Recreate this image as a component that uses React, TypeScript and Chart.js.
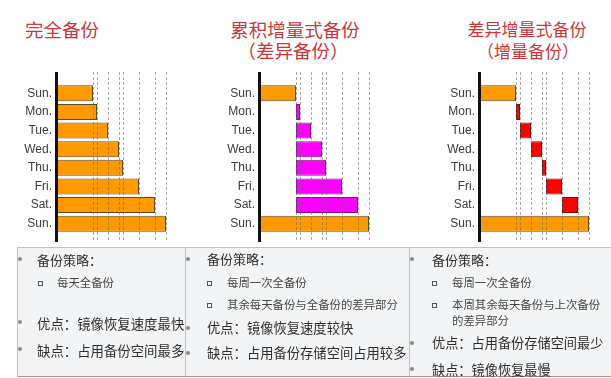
import React, { useEffect, useRef } from "react";
import { Chart, registerables } from "chart.js";

Chart.register(...registerables);

// ---- data ----
const days = ["Sun.", "Mon.", "Tue.", "Wed.", "Thu.", "Fri.", "Sat.", "Sun."];
// cumulative data volume at the end of each day (arbitrary units)
const dataVolume = [36, 40, 51, 62, 66, 82, 98, 109];
const axisMax = 120;

const titles1 = ["完全备份"];
const titles2 = ["累积增量式备份", "（差异备份）"];
const titles3 = ["差异增量式备份", "（增量备份）"];

const ORANGE = "#FF9900";
const MAGENTA = "#FF00FF";
const RED = "#FF0000";

// full backup: every day from 0 to cumulative volume
const fullBars: [number, number][] = dataVolume.map((v) => [0, v]);
// differential: weekday bars from the Sunday full backup to the day's volume
const diffBars: [number, number][] = dataVolume.map((v, i) =>
  i === 0 || i === dataVolume.length - 1 ? [0, v] : [dataVolume[0], v]
);
// incremental: weekday bars from the previous day's volume to the day's volume
const incBars: [number, number][] = dataVolume.map((v, i) =>
  i === 0 || i === dataVolume.length - 1 ? [0, v] : [dataVolume[i - 1], v]
);

const isFull = (i: number) => i === 0 || i === days.length - 1;

const guidePlugin = {
  id: "guides",
  afterDatasetsDraw(chart: any) {
    const { ctx, chartArea } = chart;
    const xs = chart.scales.x;
    const top = chartArea.top - 12;
    const bottom = chartArea.bottom + 9;
    ctx.save();
    ctx.strokeStyle = "rgba(100,100,100,0.55)";
    ctx.lineWidth = 1;
    ctx.setLineDash([3, 2]);
    dataVolume.forEach((v) => {
      const x = Math.round(xs.getPixelForValue(v)) + 0.5;
      ctx.beginPath();
      ctx.moveTo(x, top);
      ctx.lineTo(x, bottom);
      ctx.stroke();
    });
    ctx.setLineDash([]);
    ctx.strokeStyle = "#111";
    ctx.lineWidth = 3;
    const ax = xs.getPixelForValue(0) - 0.5;
    ctx.beginPath();
    ctx.moveTo(ax, top);
    ctx.lineTo(ax, bottom);
    ctx.stroke();
    ctx.restore();
  },
};

function BarChart({
  bars,
  midColor,
  midBorder,
  left,
}: {
  bars: [number, number][];
  midColor: string;
  midBorder: string;
  left: number;
}) {
  const ref = useRef<HTMLCanvasElement>(null);
  useEffect(() => {
    if (!ref.current) return;
    const chart = new Chart(ref.current, {
      type: "bar",
      data: {
        labels: days,
        datasets: [
          {
            data: bars as any,
            backgroundColor: days.map((_, i) => (isFull(i) ? ORANGE : midColor)),
            borderColor: days.map((_, i) => (isFull(i) ? "#5e4a28" : midBorder)),
            borderWidth: 1,
            borderSkipped: false,
            barPercentage: 0.86,
            categoryPercentage: 1,
          },
        ],
      },
      options: {
        indexAxis: "y",
        animation: false,
        responsive: false,
        layout: { padding: { top: 24, bottom: 17, left: 0, right: 8 } },
        plugins: { legend: { display: false }, tooltip: { enabled: false } },
        scales: {
          x: { display: false, min: 0, max: axisMax },
          y: {
            grid: { display: false, drawTicks: false },
            border: { display: false },
            ticks: {
              color: "#3a3a3a",
              padding: 5,
              font: { family: "'Liberation Sans', Arial, sans-serif", size: 12 },
            },
            afterFit: (s: any) => {
              s.width = 57;
            },
          },
        },
      } as any,
      plugins: [guidePlugin],
    });
    return () => chart.destroy();
  }, []);
  return (
    <canvas
      ref={ref}
      width={185}
      height={190}
      style={{ position: "absolute", left, top: 60, width: 185, height: 190 }}
    />
  );
}

const cjk = "'Noto Sans CJK SC', 'Noto Sans', sans-serif";

function T({
  x,
  y,
  size,
  children,
  color = "#2e2e2e",
  center = false,
}: {
  x: number;
  y: number;
  size: number;
  children: React.ReactNode;
  color?: string;
  center?: boolean;
}) {
  return (
    <div
      style={{
        position: "absolute",
        left: center ? x - 100 : x,
        width: center ? 200 : undefined,
        textAlign: center ? "center" : "left",
        top: y - size * 0.7,
        fontSize: size,
        lineHeight: `${size * 1.4}px`,
        fontFamily: cjk,
        color,
        whiteSpace: "nowrap",
      }}
    >
      {children}
    </div>
  );
}

function Dot({ x, y }: { x: number; y: number }) {
  return (
    <div
      style={{
        position: "absolute",
        left: x - 2,
        top: y - 2,
        width: 4,
        height: 4,
        borderRadius: 2,
        background: "#8a8a8a",
      }}
    />
  );
}

function Sq({ x, y }: { x: number; y: number }) {
  return (
    <div
      style={{
        position: "absolute",
        left: x - 2,
        top: y - 2,
        width: 3,
        height: 3,
        border: "1px solid #555",
      }}
    />
  );
}

export default function App() {
  const red = "#c8383a";
  return (
    <div
      style={{
        position: "fixed",
        left: 0,
        top: 0,
        width: 611,
        height: 378,
        background: "#fff",
        overflow: "hidden",
      }}
    >
      {/* titles */}
      <T x={25} y={30} size={18.5} color={red}>{titles1[0]}</T>
      <T x={295} y={30} size={18.5} color={red} center>{titles2[0]}</T>
      <T x={293} y={51} size={18.5} color={red} center>{titles2[1]}</T>
      <T x={527} y={29} size={17} color={red} center>{titles3[0]}</T>
      <T x={528} y={51} size={17} color={red} center>{titles3[1]}</T>

      {/* text box */}
      <div
        style={{
          position: "absolute",
          left: 17,
          top: 247,
          width: 600,
          height: 128,
          background: "#f3f4f6",
          border: "1px solid #a9c7d6",
          borderBottom: "1px solid #9a9a9a",
        }}
      />
      <div style={{ position: "absolute", left: 185, top: 247, width: 1, height: 129, background: "#a9c7d6" }} />
      <div style={{ position: "absolute", left: 409, top: 247, width: 1, height: 129, background: "#a9c7d6" }} />

      <BarChart bars={fullBars} midColor={ORANGE} midBorder="#5e4a28" left={0} />
      <BarChart bars={diffBars} midColor={MAGENTA} midBorder="#7a1a7a" left={203} />
      <BarChart bars={incBars} midColor={RED} midBorder="#6a1010" left={423} />

      {/* column 1 */}
      <Dot x={20} y={259} />
      <T x={37} y={260} size={13}>备份策略：</T>
      <Sq x={40} y={283} />
      <T x={57} y={283} size={11.4} color="#444">每天全备份</T>
      <Dot x={20} y={322} />
      <T x={37} y={323} size={13.4}>优点：镜像恢复速度最快</T>
      <Dot x={20} y={349} />
      <T x={37} y={350} size={13.4}>缺点：占用备份空间最多</T>

      {/* column 2 */}
      <Dot x={188} y={259} />
      <T x={207} y={259} size={13}>备份策略：</T>
      <Sq x={209} y={283} />
      <T x={227} y={283} size={11.4} color="#444">每周一次全备份</T>
      <Sq x={209} y={305} />
      <T x={227} y={305} size={11.4} color="#444">其余每天备份与全备份的差异部分</T>
      <Dot x={188} y={328} />
      <T x={207} y={328} size={13.3}>优点：镜像恢复速度较快</T>
      <Dot x={188} y={353} />
      <T x={207} y={353} size={13.3}>缺点：占用备份存储空间占用较多</T>

      {/* column 3 */}
      <Dot x={412} y={259} />
      <T x={432} y={260} size={13}>备份策略：</T>
      <Sq x={434} y={283} />
      <T x={452} y={283} size={11.4} color="#444">每周一次全备份</T>
      <Sq x={434} y={305} />
      <T x={452} y={305} size={11.4} color="#444">本周其余每天备份与上次备份</T>
      <T x={452} y={321} size={11.4} color="#444">的差异部分</T>
      <Dot x={412} y={343} />
      <T x={432} y={343} size={13.2}>优点：占用备份存储空间最少</T>
      <Dot x={412} y={369} />
      <T x={432} y={370} size={13.2}>缺点：镜像恢复最慢</T>
    </div>
  );
}
